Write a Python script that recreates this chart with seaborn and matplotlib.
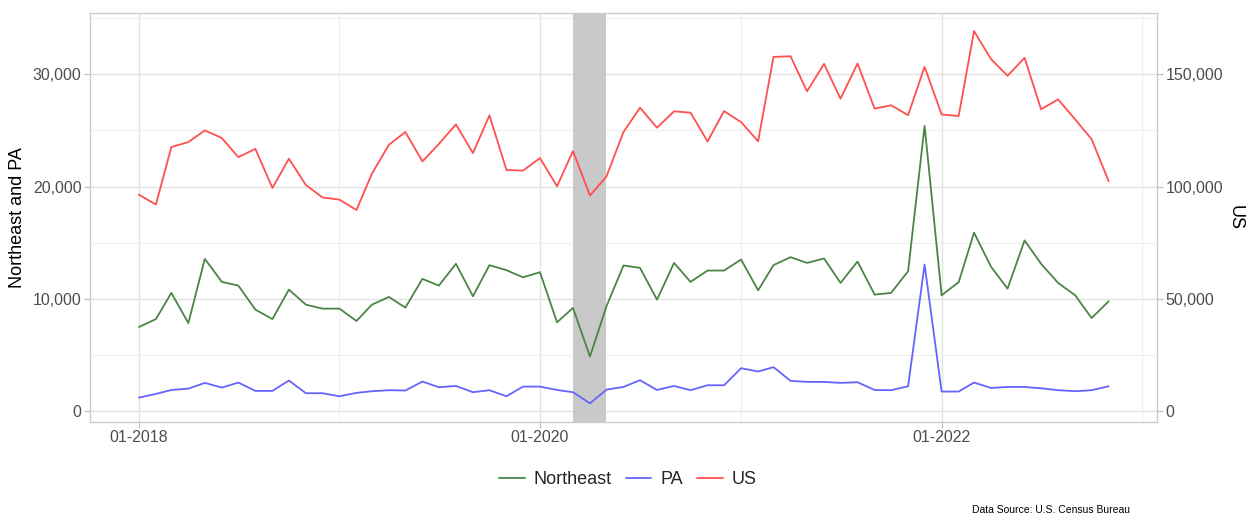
import numpy as np
import matplotlib
matplotlib.use("Agg")
import matplotlib.pyplot as plt
import matplotlib.dates as mdates
import matplotlib.ticker as mticker
import seaborn as sns
import pandas as pd


# monthly values, Jan 2018 - Nov 2022
months = pd.date_range("2018-01-01", periods=59, freq="MS")

northeast = [7500, 8210, 10540, 7860, 13570, 11520, 11190, 9050, 8210, 10830, 9490, 9140,
             9140, 8040, 9490, 10180, 9230, 11790, 11190, 13130, 10240, 13010, 12560, 11930,
             12380, 7920, 9200, 4880, 9350, 12980, 12770, 9940, 13210, 11520, 12530, 12530,
             13510, 10770, 13010, 13720, 13210, 13600, 11430, 13330, 10390, 10540, 12470, 25400,
             10330, 11490, 15900, 12860, 10920, 15210, 13130, 11430, 10330, 8300, 9790]

pa = [1220, 1550, 1900, 2020, 2530, 2110, 2560, 1820, 1820, 2740, 1610, 1610,
      1340, 1640, 1790, 1880, 1850, 2650, 2140, 2260, 1700, 1880, 1340, 2200,
      2200, 1900, 1700, 710, 1930, 2170, 2770, 1900, 2260, 1880, 2320, 2320,
      3840, 3540, 3930, 2710, 2620, 2620, 2530, 2590, 1900, 1880, 2230, 13070,
      1760, 1760, 2560, 2080, 2170, 2170, 2050, 1880, 1790, 1880, 2230]

us = [96400, 92000, 117600, 119800, 125000, 121600, 113100, 116800, 99400, 112400, 100700, 95200,
      94200, 89600, 105700, 118600, 124300, 111200, 119000, 127700, 114900, 131700, 107400, 107100,
      112700, 100100, 115800, 96000, 104500, 124300, 135100, 126200, 133500, 132900, 120100, 133600,
      128700, 120200, 157700, 158000, 142400, 154600, 139100, 154800, 134700, 136200, 131800, 153300,
      132100, 131400, 169200, 156700, 149300, 157300, 134400, 138800, 129900, 121100, 102400]

us_scale = 5  # US is drawn on the left scale divided by 5

recession_start = pd.Timestamp("2020-03-01")
recession_end = pd.Timestamp("2020-05-01")

series_names = ["Northeast", "PA", "US"]
series_colors = {"Northeast": "#4a8545", "PA": "#6464ff", "US": "#ff4f4f"}


df = pd.DataFrame({
    "date": list(months) * 3,
    "value": northeast + pa + [v / us_scale for v in us],
    "series": ["Northeast"] * 59 + ["PA"] * 59 + ["US"] * 59,
})

sns.set_theme(style="whitegrid")
plt.rcParams["font.family"] = ["Liberation Sans", "DejaVu Sans"]

fig = plt.figure(figsize=(12.47, 5.18), dpi=100)
ax = fig.add_axes([90 / 1247, 96 / 518, 1067 / 1247, 409 / 518])

ax.axvspan(recession_start, recession_end, color="#c9c9c9", zorder=1, lw=0)

sns.lineplot(data=df, x="date", y="value", hue="series", hue_order=series_names,
             palette=series_colors, linewidth=1.3, ax=ax, zorder=2, legend=False)

ax.set_xlim(pd.Timestamp("2017-10-04"), pd.Timestamp("2023-01-28"))
ax.set_ylim(-950, 35450)

ax.xaxis.set_major_locator(mdates.YearLocator(2))
ax.xaxis.set_minor_locator(mdates.YearLocator(1))
ax.xaxis.set_major_formatter(mdates.DateFormatter("%m-%Y"))
ax.yaxis.set_major_locator(mticker.MultipleLocator(10000))
ax.yaxis.set_minor_locator(mticker.MultipleLocator(5000))
ax.yaxis.set_major_formatter(mticker.StrMethodFormatter("{x:,.0f}"))

ax.grid(which="major", color="#e3e3e3", linewidth=1.0)
ax.grid(which="minor", color="#efefef", linewidth=0.8)
for s in ax.spines.values():
    s.set_color("#cccccc")
    s.set_linewidth(1.0)

ax.tick_params(axis="both", which="major", labelsize=11.5, labelcolor="#4d4d4d",
               length=4, color="#bbbbbb", bottom=True, left=True, width=0.8, pad=2)
ax.tick_params(axis="both", which="minor", length=0)
ax.set_xlabel("")
ax.set_ylabel("Northeast and PA", fontsize=13, color="black", va="center")
ax.yaxis.set_label_coords(-72 / 1067, 0.5)

# right axis for US
ax2 = ax.twinx()
ax2.set_ylim(-950 * us_scale, 35450 * us_scale)
ax2.yaxis.set_major_locator(mticker.MultipleLocator(50000))
ax2.yaxis.set_major_formatter(mticker.StrMethodFormatter("{x:,.0f}"))
ax2.grid(False)
for s in ax2.spines.values():
    s.set_visible(False)
ax2.tick_params(axis="y", labelsize=11.5, labelcolor="#4d4d4d", length=4,
                color="#bbbbbb", right=True, width=0.8, pad=2)
ax2.set_ylabel("US", fontsize=13, rotation=270, color="black", va="center")
ax2.yaxis.set_label_coords(1 + 78 / 1067, 0.5)

handles = [plt.Line2D([], [], color=series_colors[n], linewidth=1.3) for n in series_names]
fig.legend(handles, series_names, loc="center", bbox_to_anchor=(628 / 1247, 38 / 518),
           ncol=3, frameon=False, fontsize=13, handlelength=1.4, columnspacing=0.8,
           handletextpad=0.5)

fig.text(1130 / 1247, 8 / 518, "Data Source: U.S. Census Bureau", ha="right",
         va="center", fontsize=7.5, color="black")

fig.savefig("out.png", dpi=100)
